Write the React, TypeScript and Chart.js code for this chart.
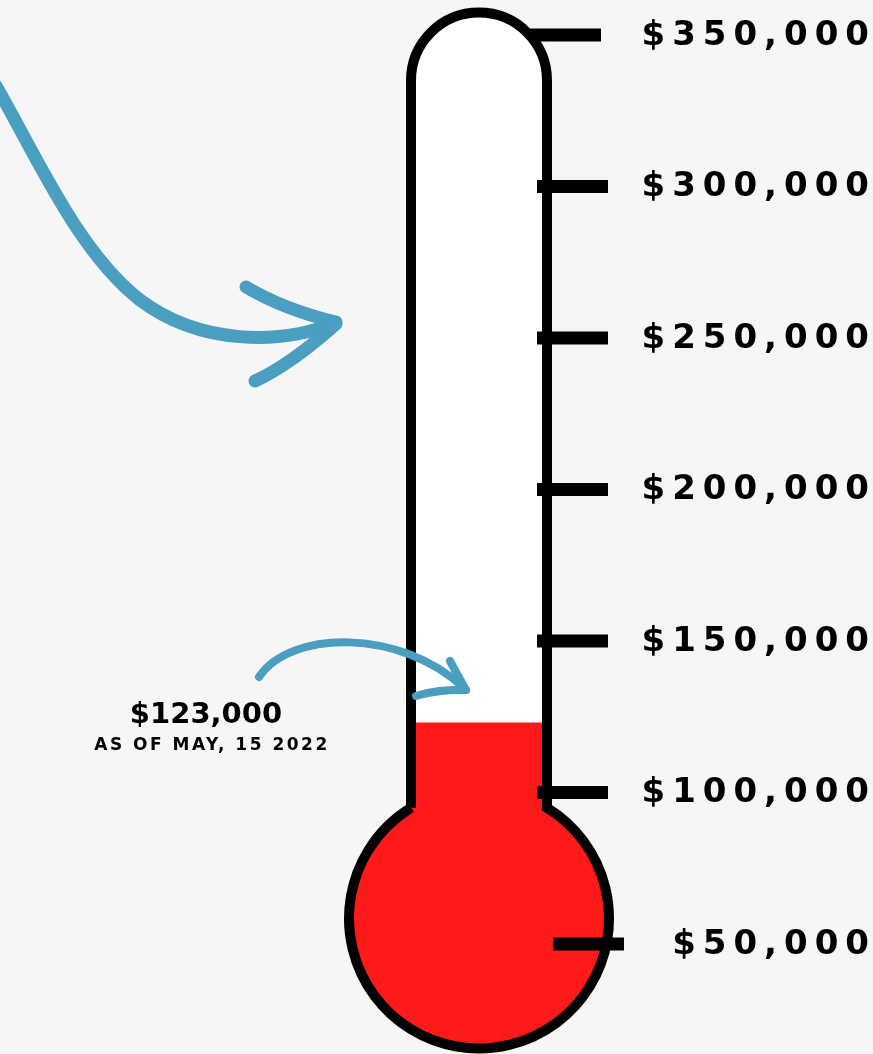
import React, { useEffect, useRef } from "react";
import { Chart, registerables } from "chart.js";

Chart.register(...registerables);

// ---- data ----
const categories: string[] = ["Raised"];
const raisedValues: number[] = [123000];
const scaleMin = 50000;
const scaleMax = 350000;
const tickValues: number[] = [350000, 300000, 250000, 200000, 150000, 100000, 50000];
const tickLabels: string[] = ["$350,000", "$300,000", "$250,000", "$200,000", "$150,000", "$100,000", "$50,000"];
const noteAmount = "$123,000";
const noteDate = "AS OF MAY, 15 2022";

const RED = "#ff1a1a";
const BLUE = "#4a9fc0";
const BG = "#f6f6f6";

function shapePath(ctx: CanvasRenderingContext2D, cx: number, topC: number, hw: number, bcy: number, br: number) {
  const dy = Math.sqrt(br * br - hw * hw);
  const yJ = bcy - dy;
  const angR = Math.atan2(-dy, hw);
  const angL = Math.atan2(-dy, -hw) + Math.PI * 2;
  ctx.beginPath();
  ctx.moveTo(cx - hw, yJ);
  ctx.lineTo(cx - hw, topC);
  ctx.arc(cx, topC, hw, Math.PI, 0, false);
  ctx.lineTo(cx + hw, yJ);
  ctx.arc(cx, bcy, br, angR, angL, false);
  ctx.closePath();
}

const thermoPlugin = {
  id: "thermo",
  beforeDatasetsDraw(chart: any) {
    const { ctx, chartArea } = chart;
    const cx = (chartArea.left + chartArea.right) / 2;
    ctx.save();
    shapePath(ctx, cx, 80.5, 68, 918.5, 130);
    ctx.fillStyle = "#ffffff";
    ctx.fill();
    ctx.restore();
  },
  afterDatasetsDraw(chart: any) {
    const { ctx, chartArea } = chart;
    const cx = (chartArea.left + chartArea.right) / 2;
    const yScale = chart.scales.y;
    ctx.save();
    // bulb fill
    ctx.beginPath();
    ctx.arc(cx, 918.5, 130, 0, Math.PI * 2);
    ctx.fillStyle = RED;
    ctx.fill();
    // outline
    shapePath(ctx, cx, 80.5, 68, 918.5, 130);
    ctx.lineWidth = 10;
    ctx.strokeStyle = "#000";
    ctx.lineJoin = "miter";
    ctx.stroke();

    // ticks and labels
    ctx.fillStyle = "#000";
    ctx.font = "bold 34px 'DejaVu Sans'";
    (ctx as any).letterSpacing = "7px";
    ctx.textAlign = "right";
    ctx.textBaseline = "middle";
    tickValues.forEach((v, i) => {
      const y = yScale.getPixelForValue(v);
      const x0 = i === 0 ? 530 : i === tickValues.length - 1 ? 553 : 537;
      ctx.fillRect(x0, y - 6.5, 71, 13);
      ctx.fillText(tickLabels[i], 876, y + 1);
    });
    (ctx as any).letterSpacing = "0px";

    // big arrow
    ctx.strokeStyle = BLUE;
    ctx.lineCap = "round";
    ctx.lineJoin = "round";
    ctx.lineWidth = 13;
    ctx.beginPath();
    ctx.moveTo(-4, 86);
    ctx.bezierCurveTo(36, 155, 78, 252, 140, 300);
    ctx.bezierCurveTo(200, 345, 280, 345, 335, 323);
    ctx.stroke();
    ctx.beginPath();
    ctx.moveTo(246, 287);
    ctx.quadraticCurveTo(285, 310, 336, 322);
    ctx.stroke();
    ctx.beginPath();
    ctx.moveTo(255, 381);
    ctx.quadraticCurveTo(290, 365, 336, 324);
    ctx.stroke();

    // small arrow
    ctx.lineWidth = 8;
    ctx.beginPath();
    ctx.moveTo(259, 677);
    ctx.bezierCurveTo(290, 630, 400, 628, 464, 688);
    ctx.stroke();
    ctx.beginPath();
    ctx.moveTo(450, 661);
    ctx.quadraticCurveTo(458, 676, 466, 690);
    ctx.stroke();
    ctx.beginPath();
    ctx.moveTo(416, 696);
    ctx.quadraticCurveTo(440, 689, 466, 690);
    ctx.stroke();

    // note text
    ctx.fillStyle = "#000";
    ctx.textAlign = "center";
    ctx.textBaseline = "alphabetic";
    ctx.font = "bold 29px 'DejaVu Sans'";
    ctx.fillText(noteAmount, 206, 723);
    ctx.font = "bold 17px 'DejaVu Sans'";
    (ctx as any).letterSpacing = "2.5px";
    ctx.fillText(noteDate, 212, 750);
    (ctx as any).letterSpacing = "0px";
    ctx.restore();
  },
};

export default function App() {
  const ref = useRef<HTMLCanvasElement | null>(null);
  useEffect(() => {
    document.body.style.margin = "0";
    document.body.style.background = BG;
    const canvas = ref.current;
    if (!canvas) return;
    const chart = new Chart(canvas, {
      type: "bar",
      data: {
        labels: categories,
        datasets: [
          {
            data: raisedValues,
            backgroundColor: RED,
            borderWidth: 0,
            barPercentage: 1,
            categoryPercentage: 1,
          },
        ],
      },
      options: {
        responsive: false,
        animation: false,
        devicePixelRatio: 1,
        layout: { padding: { left: 415, right: 330, top: 35, bottom: 110 } },
        scales: {
          x: { display: false },
          y: { display: false, min: scaleMin, max: scaleMax },
        },
        plugins: { legend: { display: false }, tooltip: { enabled: false } },
      },
      plugins: [thermoPlugin],
    });
    return () => chart.destroy();
  }, []);
  return (
    <div style={{ width: 873, height: 1054, background: BG, overflow: "hidden" }}>
      <canvas ref={ref} width={873} height={1054} style={{ display: "block" }} />
    </div>
  );
}
